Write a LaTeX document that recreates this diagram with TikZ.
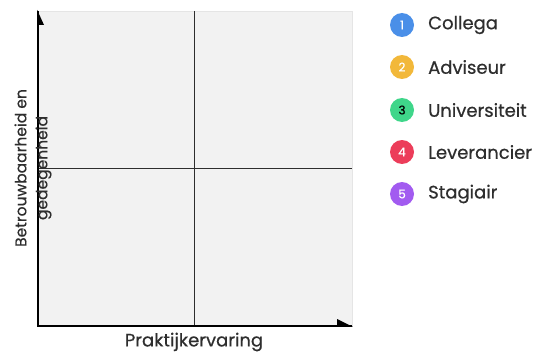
\documentclass[tikz,border=0pt]{standalone}
\usepackage{fontspec}
\setmainfont{Poppins}[FakeBold=0.6]
\definecolor{cblue}{HTML}{4A8FE8}
\definecolor{cyellow}{HTML}{F2B83A}
\definecolor{cgreen}{HTML}{3FD68A}
\definecolor{cred}{HTML}{EC3D5A}
\definecolor{cpurple}{HTML}{A25BF0}
\definecolor{ink}{HTML}{2E2E2E}
\definecolor{panel}{HTML}{F2F2F2}
\begin{document}
\begin{tikzpicture}[x=1pt,y=-1pt,
  badge/.style={circle,minimum size=24pt,inner sep=0pt,font=\fontsize{12}{13}\selectfont,text=white},
  legtext/.style={anchor=west,inner sep=0pt,font=\fontsize{18}{21}\selectfont,text=ink},
  axislabel/.style={font=\fontsize{15.5}{21}\selectfont,text=ink,align=center,inner sep=0pt}]
\useasboundingbox (0,0) rectangle (536,353);
\fill[panel,draw=black!10] (38,11) rectangle (352,326);
\coordinate (o) at (38,326);
\coordinate (ytop) at (38,11);
\coordinate (xend) at (352,326);
\coordinate (vt) at (194,11);
\coordinate (vb) at (194,326);
\coordinate (hl) at (38,168);
\coordinate (hr) at (352,168);
\draw[ink,line width=0.9pt] (vt) -- (vb);
\draw[ink,line width=0.9pt] (hl) -- (hr);
\draw[black,line width=1.6pt] (ytop) -- (o) -- (xend);
\fill[black] (37.2,10) -- (37.2,25) -- (44,25) -- cycle;
\fill[black] (352.8,326.8) -- (337,326.8) -- (337,319) -- cycle;
\node[axislabel,rotate=90] (ylab) at (33,168) {Betrouwbaarheid en\\gedegenheid};
\node[axislabel,font=\fontsize{18}{21}\selectfont] (xlab) at (194,342) {Praktijkervaring};
\node[badge,fill=cblue] (b1) at (402,25) {1};
\node[badge,fill=cyellow] (b2) at (402,67) {2};
\node[badge,fill=cgreen,text=black] (b3) at (402,110) {3};
\node[badge,fill=cred] (b4) at (402,152) {4};
\node[badge,fill=cpurple] (b5) at (402,194) {5};
\node[legtext] (l1) at (428,25) {Collega};
\node[legtext] (l2) at (428,67) {Adviseur};
\node[legtext] (l3) at (428,110) {Universiteit};
\node[legtext] (l4) at (428,152) {Leverancier};
\node[legtext] (l5) at (428,194) {Stagiair};
\end{tikzpicture}
\end{document}
